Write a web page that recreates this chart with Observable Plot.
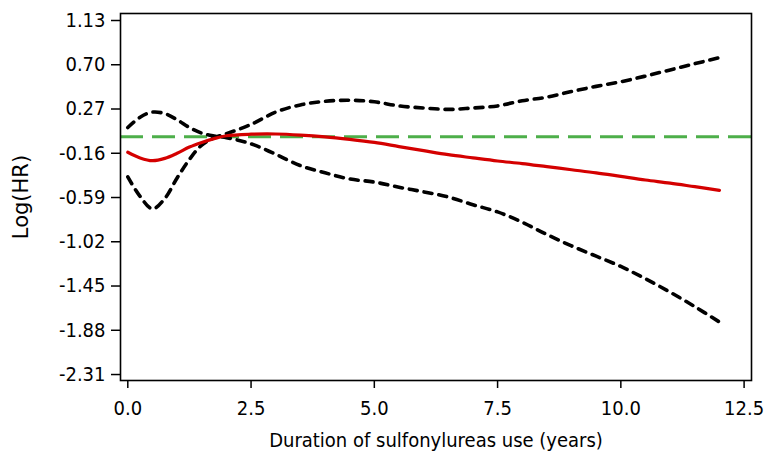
<!DOCTYPE html>
<html>
<head>
<meta charset="utf-8">
<script src="https://cdn.jsdelivr.net/npm/d3@7"></script>
<script src="https://cdn.jsdelivr.net/npm/@observablehq/plot@0.6"></script>
<style>
  html, body { margin: 0; padding: 0; background: #fff; }
</style>
</head>
<body>
<div id="chart"></div>
<script>
// Duration of sulfonylureas use (years)
const durationYears = [0, 0.25, 0.5, 0.75, 1, 1.25, 1.5, 1.75, 2, 2.5, 3, 3.5, 4, 4.5, 5, 5.5, 6, 6.5, 7, 7.5, 8, 8.5, 9, 9.5, 10, 10.5, 11, 11.5, 12];
// Estimated log(HR)
const logHR = [-0.15, -0.205, -0.232, -0.21, -0.16, -0.10, -0.055, -0.018, 0.01, 0.025, 0.027, 0.017, 0.0, -0.025, -0.055, -0.095, -0.135, -0.174, -0.205, -0.235, -0.26, -0.29, -0.32, -0.35, -0.385, -0.42, -0.45, -0.485, -0.52];
// Confidence band line starting high (crosses to lower bound)
const ciLineA = [0.09, 0.19, 0.24, 0.225, 0.165, 0.09, 0.035, 0.008, -0.008, -0.068, -0.17, -0.28, -0.35, -0.41, -0.44, -0.49, -0.535, -0.585, -0.66, -0.73, -0.83, -0.95, -1.06, -1.16, -1.26, -1.38, -1.51, -1.65, -1.80];
// Confidence band line starting low (crosses to upper bound)
const ciLineB = [-0.39, -0.58, -0.70, -0.60, -0.40, -0.22, -0.08, -0.01, 0.03, 0.12, 0.24, 0.31, 0.345, 0.355, 0.34, 0.30, 0.28, 0.266, 0.28, 0.30, 0.35, 0.385, 0.44, 0.49, 0.535, 0.59, 0.65, 0.71, 0.77];

const yTicks = [1.13, 0.70, 0.27, -0.16, -0.59, -1.02, -1.45, -1.88, -2.31];
const xTicks = [0, 2.5, 5, 7.5, 10, 12.5];
const referenceLine = [0];

const main = durationYears.map((d, i) => ({x: d, y: logHR[i]}));
const ciA = durationYears.map((d, i) => ({x: d, y: ciLineA[i]}));
const ciB = durationYears.map((d, i) => ({x: d, y: ciLineB[i]}));

const font = "'DejaVu Sans Condensed', 'DejaVu Sans', sans-serif";

const chart = Plot.plot({
  width: 765,
  height: 452,
  marginLeft: 120,
  marginTop: 13,
  marginRight: 14,
  marginBottom: 72,
  style: {fontFamily: font, fontSize: "20px", color: "#000", background: "#fff"},
  x: {domain: [-0.148, 12.65]},
  y: {domain: [-2.368, 1.198]},
  marks: [
    Plot.ruleY(referenceLine, {stroke: "#4daf4a", strokeWidth: 3, strokeDasharray: "23,9"}),
    Plot.line(ciA, {x: "x", y: "y", stroke: "#000", strokeWidth: 3.6, strokeDasharray: "8,7", curve: "catmull-rom"}),
    Plot.line(ciB, {x: "x", y: "y", stroke: "#000", strokeWidth: 3.6, strokeDasharray: "8,7", curve: "catmull-rom"}),
    Plot.line(main, {x: "x", y: "y", stroke: "#d40000", strokeWidth: 3.2, curve: "catmull-rom"}),
    Plot.frame({stroke: "#000", strokeWidth: 1.6}),
    Plot.axisY({ticks: yTicks, tickFormat: d => d.toFixed(2), tickSize: 9, tickPadding: 6, strokeWidth: 1.5,
      fontSize: 20, label: null}),
    Plot.axisY({ticks: [], fontSize: 21, fontFamily: "'DejaVu Sans', sans-serif", label: "Log(HR)",
      labelAnchor: "center", labelArrow: "none", labelOffset: 107}),
    Plot.axisX({ticks: xTicks, tickFormat: d => d.toFixed(1), tickSize: 8, tickPadding: 12, strokeWidth: 1.5,
      fontSize: 20, label: null}),
    Plot.axisX({ticks: [], fontSize: 20, label: "Duration of sulfonylureas use (years)",
      labelAnchor: "center", labelArrow: "none", labelOffset: 66})
  ]
});
document.getElementById("chart").appendChild(chart);
</script>
</body>
</html>
